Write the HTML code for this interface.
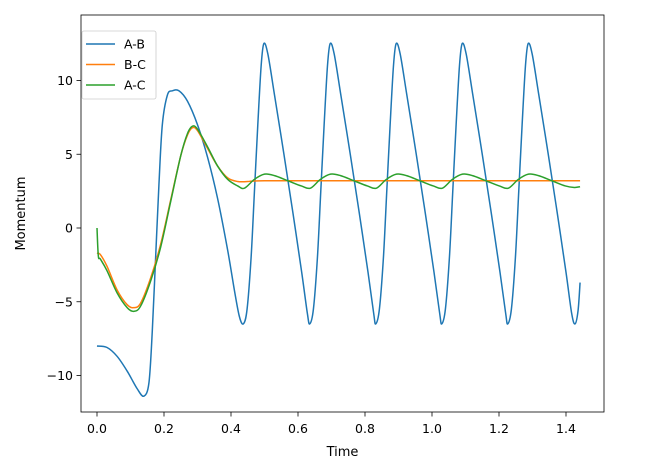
<!DOCTYPE html>
<html><head><meta charset="utf-8"><style>
body{margin:0;background:#fff}
svg{display:block;font-family:"DejaVu Sans","Liberation Sans",sans-serif}
</style></head><body>
<svg id="chart" width="647" height="461">
<rect x="0" y="0" width="647" height="461" fill="#fff"/>
<g id="plot"></g>
</svg>
<script>
const abT=[0,.03,.06,.09,.12,.14,.155,.165,.175,.185,.195,.21,.225,.245,.27,.3,.33,.36,.39,.41,.425,.437,.448,.46,.47,.48,.49,.498,.510,.530,.558,.585,.611,.628,
.635,.646,.658,.668,.678,.688,.696,.708,.728,.756,.783,.809,.826,
.832,.843,.855,.865,.875,.885,.893,.905,.925,.953,.980,1.006,1.023,
1.029,1.040,1.052,1.062,1.072,1.082,1.090,1.102,1.122,1.150,1.177,1.203,1.220,
1.226,1.237,1.249,1.259,1.269,1.279,1.287,1.299,1.319,1.347,1.374,1.400,1.417,1.427,1.436,1.442];
const abV=[-8,-8.1,-8.7,-9.7,-10.9,-11.4,-10.5,-7,-2,3,7,9,9.3,9.3,8.6,7,4.8,2,-1.5,-4.2,-6,-6.5,-5.5,-2,2.5,7,11,12.5,11.8,9,5,1,-3,-5.8,
-6.5,-5.5,-2,2.5,7,11,12.5,11.8,9,5,1,-3,-5.8,
-6.5,-5.5,-2,2.5,7,11,12.5,11.8,9,5,1,-3,-5.8,
-6.5,-5.5,-2,2.5,7,11,12.5,11.8,9,5,1,-3,-5.8,
-6.5,-5.5,-2,2.5,7,11,12.5,11.8,9,5,1,-3,-5.8,-6.5,-5.6,-3.7];
const bcT=[0,.01,.03,.06,.09,.11,.13,.16,.19,.22,.25,.27,.285,.30,.33,.36,.39,.42,.45,.5,.8,1.1,1.442];
const bcV=[-1.7,-1.8,-2.6,-4.2,-5.2,-5.4,-5.1,-3.4,-1.1,1.9,4.9,6.3,6.8,6.6,5.4,4.2,3.4,3.15,3.15,3.2,3.2,3.2,3.2];
const acT=[0,.004,.01,.03,.06,.09,.11,.13,.16,.19,.22,.25,.27,.285,.30,.33,.36,.39,.42,.44,.47,.50,.53,.57,.61,
.637,.667,.697,.727,.767,.807,.834,.864,.894,.924,.964,1.004,1.031,1.061,1.091,1.121,1.161,1.201,1.228,1.258,1.288,1.318,1.358,1.398,1.425,1.442];
const acV=[0,-1.9,-2.1,-2.9,-4.4,-5.4,-5.65,-5.3,-3.6,-1.3,1.8,4.9,6.4,6.9,6.7,5.5,4.2,3.3,2.85,2.7,3.3,3.65,3.55,3.2,2.85,
2.7,3.3,3.65,3.55,3.2,2.85,2.7,3.3,3.65,3.55,3.2,2.85,2.7,3.3,3.65,3.55,3.2,2.85,2.7,3.3,3.65,3.55,3.2,2.85,2.75,2.8];
const xTicks=[0,0.2,0.4,0.6,0.8,1.0,1.2,1.4];
const xTickLabels=["0.0","0.2","0.4","0.6","0.8","1.0","1.2","1.4"];
const yTicks=[-10,-5,0,5,10];
const yTickLabels=["−10","−5","0","5","10"];
const seriesNames=["A-B","B-C","A-C"];

const L=81,R=604,T=15,B=412;
const X=t=>97+t*335;
const Y=v=>228-v*14.75;
const NS="http://www.w3.org/2000/svg";
const g=document.getElementById('plot');
function mk(tag,attrs,parent){const e=document.createElementNS(NS,tag);for(const k in attrs)e.setAttribute(k,attrs[k]);(parent||g).appendChild(e);return e;}
function pathFor(ts,vs){
  const p=ts.map((t,i)=>[X(t),Y(vs[i])]);
  let d="M"+p[0][0].toFixed(2)+","+p[0][1].toFixed(2);
  for(let i=0;i<p.length-1;i++){
    const p0=p[Math.max(0,i-1)],p1=p[i],p2=p[i+1],p3=p[Math.min(p.length-1,i+2)];
    const c1=[p1[0]+(p2[0]-p0[0])/6,p1[1]+(p2[1]-p0[1])/6];
    const c2=[p2[0]-(p3[0]-p1[0])/6,p2[1]-(p3[1]-p1[1])/6];
    d+=" C"+c1.map(n=>n.toFixed(2)).join(",")+" "+c2.map(n=>n.toFixed(2)).join(",")+" "+p2.map(n=>n.toFixed(2)).join(",");
  }
  return d;
}
const colors=["#1f77b4","#ff7f0e","#2ca02c"];
const data=[[abT,abV],[bcT,bcV],[acT,acV]];
const clip=mk('clipPath',{id:'clp'});mk('rect',{x:L,y:T,width:R-L,height:B-T},clip);
data.forEach((s,i)=>{
  const e=mk('path',{d:pathFor(s[0],s[1]),fill:'none',stroke:colors[i],'stroke-width':1.5,'clip-path':'url(#clp)'});
  
  
});
const frame=mk('rect',{x:L,y:T,width:R-L,height:B-T,fill:'none',stroke:'#000','stroke-width':0.8});


xTicks.forEach((t,i)=>{
  const l=mk('line',{x1:X(t),x2:X(t),y1:B,y2:B+4.5,stroke:'#000','stroke-width':0.8});
  
  
  const tx=mk('text',{x:X(t),y:B+21,'text-anchor':'middle','font-size':12.5});
  tx.textContent=xTickLabels[i];
  
  
});
yTicks.forEach((v,i)=>{
  const l=mk('line',{x1:L-4.5,x2:L,y1:Y(v),y2:Y(v),stroke:'#000','stroke-width':0.8});
  
  
  const tx=mk('text',{x:L-8,y:Y(v)+4.5,'text-anchor':'end','font-size':12.5});
  tx.textContent=yTickLabels[i];
  
  
});
const xt=mk('text',{x:(L+R)/2,y:B+44,'text-anchor':'middle','font-size':13});
xt.textContent="Time";


const yt=mk('text',{x:0,y:0,'text-anchor':'middle','font-size':13,transform:'translate(25,'+((T+B)/2)+') rotate(-90)'});
yt.textContent="Momentum";


const lg=mk('g',{});


mk('rect',{x:82,y:31,width:74,height:68,rx:2,fill:'#fff','fill-opacity':0.8,stroke:'#ccc','stroke-width':0.8},lg);
seriesNames.forEach((n,i)=>{
  const y=44+i*20.5;
  const ln=mk('line',{x1:86,x2:115,y1:y,y2:y,stroke:colors[i],'stroke-width':1.5},lg);
  
  
  const tx=mk('text',{x:124,y:y+4.5,'font-size':12.5},lg);
  tx.textContent=n;
  
  
});
</script>
</body></html>
